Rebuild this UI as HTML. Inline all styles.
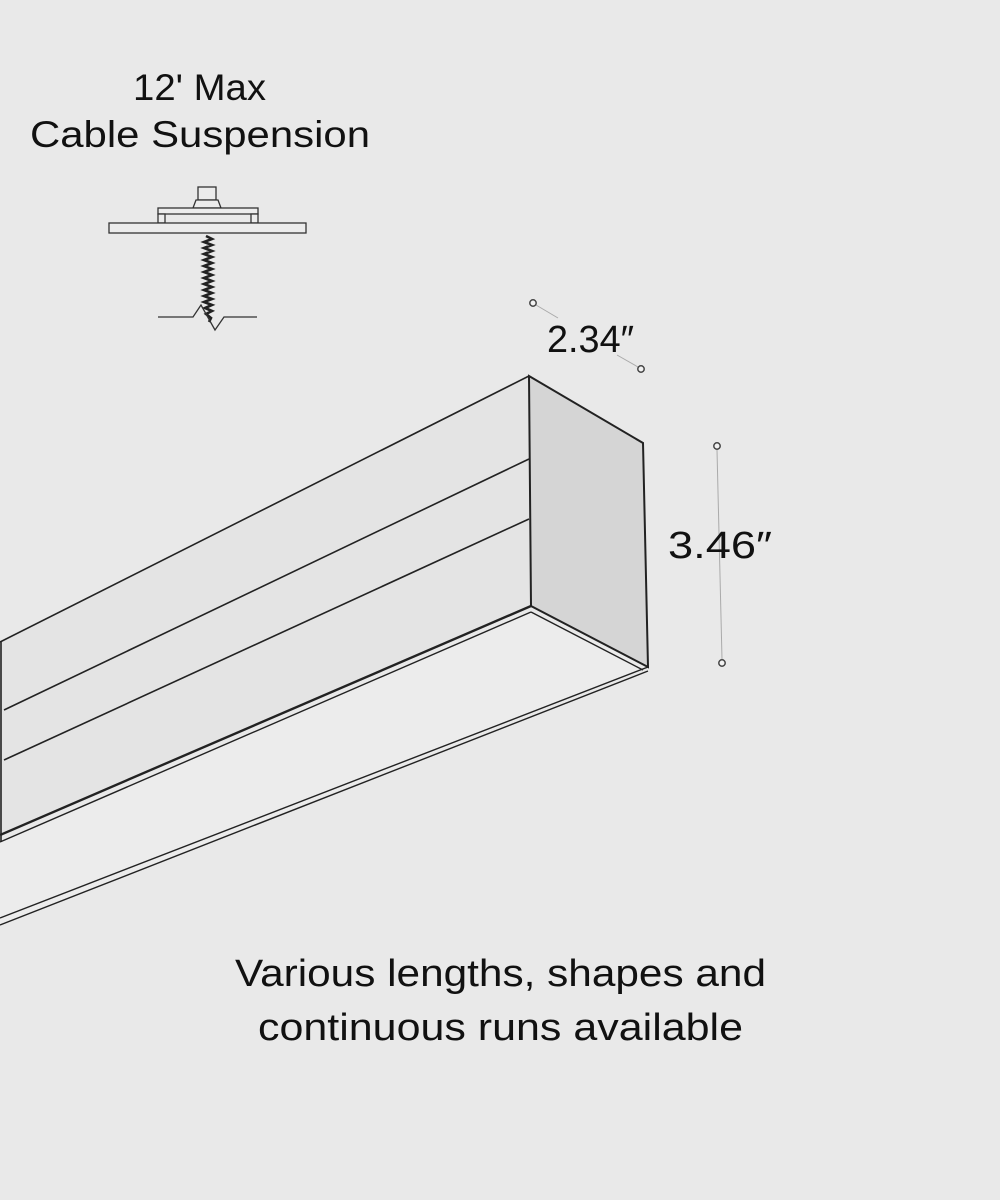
<!DOCTYPE html>
<html><head><meta charset="utf-8"><style>
html,body{margin:0;padding:0;background:#e9e9e9}
svg{display:block}
text{font-family:"Liberation Sans",sans-serif;fill:#111}
</style></head><body>
<svg width="1000" height="1200" viewBox="0 0 1000 1200" xmlns="http://www.w3.org/2000/svg">
<rect x="0" y="0" width="1000" height="1200" fill="#e9e9e9"/>
<text x="133" y="100" font-size="37" textLength="133" lengthAdjust="spacingAndGlyphs">12' Max</text>
<text x="30" y="147" font-size="37" textLength="340" lengthAdjust="spacingAndGlyphs">Cable Suspension</text>
<!-- canopy -->
<g fill="#ececec" stroke="#333" stroke-width="1.3">
<rect x="198" y="187" width="18" height="13"/>
<polygon points="196,200 218,200 221,208 193,208"/>
<rect x="158" y="208" width="100" height="6"/>
<rect x="158" y="214" width="7" height="9"/>
<rect x="251" y="214" width="7" height="9"/>
<rect x="109" y="223" width="197" height="10"/>
</g>
<polyline fill="none" stroke="#222" stroke-width="2.6" points="206,236 212,239 204,242 212,245 204,248 212,251 204,254 212,257 204,260 212,263 204,266 212,269 204,272 212,275 204,278 212,281 204,284 212,287 204,290 212,293 204,296 212,299 204,302 212,305 205,308 212,311 206,314 211,318 209,322"/>
<polyline fill="none" stroke="#333" stroke-width="1.3" points="158,317 193,317 201,305 215,330 224,317 257,317"/>
<!-- fixture -->
<polygon points="0,642 529,376 531,606 0,835" fill="#e4e4e4"/>
<polygon points="0,842 531,612 648,667 0,925" fill="#ececec"/>
<polygon points="529,376 643,443 648,667 531,606" fill="#d5d5d5" stroke="#222" stroke-width="2"/>
<g stroke="#222" fill="none">
<line x1="0" y1="642" x2="529" y2="376" stroke-width="1.6"/>
<line x1="1" y1="642" x2="1" y2="842" stroke-width="1.6"/>
<line x1="4" y1="710" x2="529" y2="459" stroke-width="1.6"/>
<line x1="4" y1="760" x2="529" y2="519" stroke-width="1.6"/>
<line x1="0" y1="835" x2="531" y2="606" stroke-width="2.4"/>
<line x1="0" y1="842" x2="531" y2="612" stroke-width="1.4"/>
<line x1="531" y1="612" x2="643" y2="670" stroke-width="1.4"/>
<line x1="0" y1="918" x2="648" y2="667" stroke-width="1.4"/>
<line x1="0" y1="925" x2="648" y2="671" stroke-width="1.4"/>
</g>
<!-- dimensions -->
<g stroke="#aaa" stroke-width="1">
<line x1="536" y1="305" x2="558" y2="318"/>
<line x1="617" y1="355" x2="638" y2="367"/>
<line x1="717" y1="450" x2="722" y2="659"/>
</g>
<g fill="#f2f2f2" stroke="#444" stroke-width="1.5">
<circle cx="533" cy="303" r="3.2"/>
<circle cx="641" cy="369" r="3.2"/>
<circle cx="717" cy="446" r="3.2"/>
<circle cx="722" cy="663" r="3.2"/>
</g>
<text x="547" y="352" font-size="38" textLength="87" lengthAdjust="spacingAndGlyphs">2.34″</text>
<text x="668" y="558" font-size="38" textLength="104" lengthAdjust="spacingAndGlyphs">3.46″</text>
<text x="235" y="986" font-size="38" textLength="531" lengthAdjust="spacingAndGlyphs">Various lengths, shapes and</text>
<text x="258" y="1040" font-size="38" textLength="485" lengthAdjust="spacingAndGlyphs">continuous runs available</text>
</svg>
</body></html>
